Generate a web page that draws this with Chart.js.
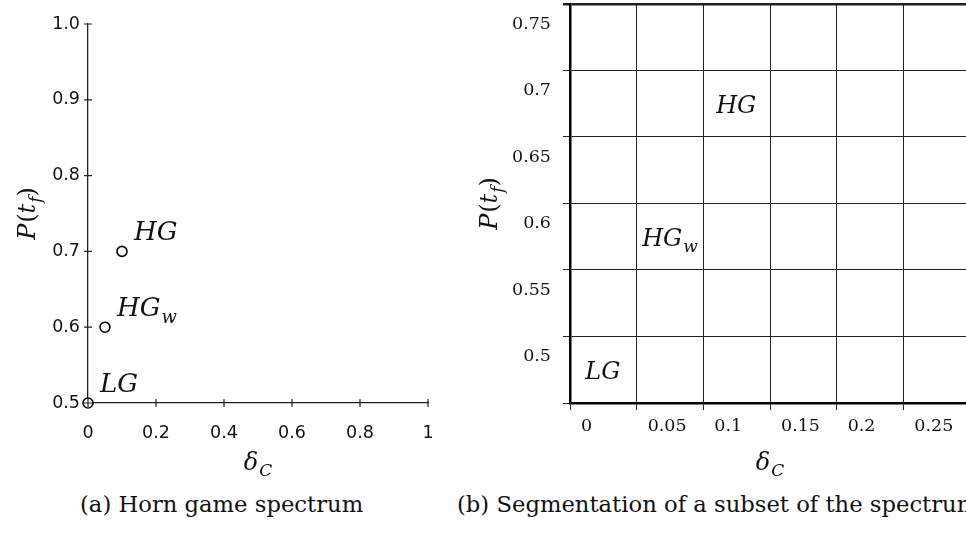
<!DOCTYPE html>
<html>
<head>
<meta charset="utf-8">
<title>Horn game spectrum</title>
<script src="https://cdn.jsdelivr.net/npm/chart.js@4.4.1/dist/chart.umd.min.js"></script>
<style>
  html, body { margin: 0; padding: 0; background: #fff; width: 966px; height: 534px; overflow: hidden; }
  .panel { position: absolute; top: 0; }
  #panelA { left: 0; }
  #panelB { left: 470px; }
  .caption { position: absolute; top: 491px; font-family: "DejaVu Serif", serif; font-size: 22.7px; color: #111; white-space: nowrap; }
</style>
</head>
<body>
<div class="panel" id="panelA"><canvas id="spectrum" width="460" height="480"></canvas></div>
<div class="panel" id="panelB"><canvas id="segments" width="540" height="480"></canvas></div>
<div class="caption" style="left:80px">(a) Horn game spectrum</div>
<div class="caption" style="left:457px">(b) Segmentation of a subset of the spectrum</div>

<script>
// (a) games on the spectrum
const gameNames = ["LG", "HG_w", "HG"];
const gameDelta = [0, 0.05, 0.1];
const gameP = [0.5, 0.6, 0.7];
const spectrumXTicks = [0, 0.2, 0.4, 0.6, 0.8, 1];
const spectrumYTicks = [0.5, 0.6, 0.7, 0.8, 0.9, 1.0];

// (b) segment each game falls into (cell centres)
const segmentNames = ["LG", "HG_w", "HG"];
const segmentDelta = [0.025, 0.075, 0.125];
const segmentP = [0.475, 0.575, 0.675];
const segmentXTicks = [0, 0.05, 0.1, 0.15, 0.2, 0.25, 0.3];
const segmentYTicks = [0.45, 0.5, 0.55, 0.6, 0.65, 0.7, 0.75];

const SERIF = '"DejaVu Serif", serif';

// draw a run of math-ish text parts, returns width (or only measures)
function drawParts(ctx, parts, x, y, size, measureOnly) {
  let w = 0;
  parts.forEach((p) => {
    const s = p.sub ? Math.round(size * 0.7) : size;
    ctx.font = (p.it ? "italic " : "") + s + "px " + SERIF;
    if (!measureOnly) ctx.fillText(p.t, x + w, y + (p.sub ? size * 0.25 : 0));
    w += ctx.measureText(p.t).width + (p.it && !p.sub ? size * 0.04 : 0);
  });
  return w;
}

// "HG_w" -> italic HG with subscript w
function nameParts(name) {
  const [base, sub] = name.split("_");
  const parts = [{ t: base, it: true }];
  if (sub) parts.push({ t: sub, it: true, sub: true });
  return parts;
}

const pTitle = [
  { t: "P", it: true }, { t: "(", it: false }, { t: "t", it: true },
  { t: "f", it: true, sub: true }, { t: ")", it: false },
];
const deltaTitle = [{ t: "δ", it: true }, { t: "C", it: true, sub: true }];

// axis titles with subscripts
function axisTitles(yOffset) {
  return {
    id: "axisTitles",
    afterDraw(chart) {
      const { ctx, chartArea } = chart;
      ctx.save();
      ctx.fillStyle = "#111";
      ctx.textBaseline = "alphabetic";
      ctx.textAlign = "left";
      // x title
      let w = drawParts(ctx, deltaTitle, 0, 0, 24, true);
      drawParts(ctx, deltaTitle, (chartArea.left + chartArea.right) / 2 - w / 2, chartArea.bottom + 67, 24);
      // y title, rotated
      w = drawParts(ctx, pTitle, 0, 0, 24, true);
      ctx.translate(chartArea.left - yOffset, (chartArea.top + chartArea.bottom) / 2);
      ctx.rotate(-Math.PI / 2);
      drawParts(ctx, pTitle, -w / 2, 8, 24);
      ctx.restore();
    },
  };
}

// little tick marks crossing the axes of panel (a)
const crossTicks = {
  id: "crossTicks",
  afterDraw(chart) {
    const { ctx, chartArea, scales } = chart;
    ctx.save();
    ctx.strokeStyle = "#222";
    ctx.lineWidth = 1.2;
    ctx.beginPath();
    scales.x.ticks.forEach((t) => {
      const px = scales.x.getPixelForValue(t.value);
      ctx.moveTo(px, chartArea.bottom - 4);
      ctx.lineTo(px, chartArea.bottom + 4);
    });
    scales.y.ticks.forEach((t) => {
      const py = scales.y.getPixelForValue(t.value);
      ctx.moveTo(chartArea.left - 4, py);
      ctx.lineTo(chartArea.left + 4, py);
    });
    ctx.stroke();
    ctx.restore();
  },
};

// names next to the spectrum points
const pointNames = {
  id: "pointNames",
  afterDatasetsDraw(chart) {
    const { ctx } = chart;
    const meta = chart.getDatasetMeta(0);
    ctx.save();
    ctx.fillStyle = "#111";
    ctx.textBaseline = "alphabetic";
    meta.data.forEach((pt, i) => {
      drawParts(ctx, nameParts(gameNames[i]), pt.x + 12, pt.y - 11, 26);
    });
    ctx.restore();
  },
};

// names centred in their segment cells
const cellNames = {
  id: "cellNames",
  afterDatasetsDraw(chart) {
    const { ctx } = chart;
    const meta = chart.getDatasetMeta(0);
    ctx.save();
    ctx.fillStyle = "#111";
    ctx.textBaseline = "alphabetic";
    meta.data.forEach((pt, i) => {
      const parts = nameParts(segmentNames[i]);
      const w = drawParts(ctx, parts, 0, 0, 24, true);
      drawParts(ctx, parts, pt.x - w / 2, pt.y + 9, 24);
    });
    ctx.restore();
  },
};

const sansTicks = { family: '"DejaVu Sans", sans-serif', size: 17.5 };
const serifTicks = { family: SERIF, size: 17.5 };

// (a) Horn game spectrum
new Chart(document.getElementById("spectrum"), {
  type: "scatter",
  data: {
    datasets: [{
      data: gameDelta.map((x, i) => ({ x, y: gameP[i] })),
      pointRadius: 5,
      pointBorderWidth: 1.6,
      pointBorderColor: "#000",
      pointBackgroundColor: "#fff",
      clip: false,
    }],
  },
  options: {
    responsive: false,
    animation: false,
    events: [],
    layout: { padding: { top: 24, right: 32, left: 0, bottom: 0 } },
    plugins: { legend: { display: false }, tooltip: { enabled: false } },
    scales: {
      x: {
        type: "linear", min: 0, max: 1,
        afterBuildTicks: (s) => { s.ticks = spectrumXTicks.map((v) => ({ value: v })); },
        afterFit: (s) => { s.height = 77; s.paddingLeft = 0; s.paddingRight = 0; },
        grid: { display: false },
        border: { color: "#222", width: 1.3 },
        ticks: { font: sansTicks, color: "#111", padding: 12, callback: (v) => String(v) },
      },
      y: {
        type: "linear", min: 0.5, max: 1.0,
        afterBuildTicks: (s) => { s.ticks = spectrumYTicks.map((v) => ({ value: v })); },
        afterFit: (s) => { s.width = 88; s.paddingTop = 0; s.paddingBottom = 0; },
        grid: { display: false },
        border: { color: "#222", width: 1.3 },
        ticks: { font: sansTicks, color: "#111", padding: 0, callback: (v) => v.toFixed(1) },
      },
    },
  },
  plugins: [crossTicks, pointNames, axisTitles(61)],
});

// (b) segmentation grid
new Chart(document.getElementById("segments"), {
  type: "scatter",
  data: {
    datasets: [{
      data: segmentDelta.map((x, i) => ({ x, y: segmentP[i] })),
      pointRadius: 0,
      clip: false,
    }],
  },
  options: {
    responsive: false,
    animation: false,
    events: [],
    layout: { padding: { top: 4, right: 40, left: 0, bottom: 0 } },
    plugins: { legend: { display: false }, tooltip: { enabled: false } },
    scales: {
      x: {
        type: "linear", min: 0, max: 0.3,
        afterBuildTicks: (s) => { s.ticks = segmentXTicks.map((v) => ({ value: v })); },
        afterFit: (s) => { s.height = 77; s.paddingLeft = 0; s.paddingRight = 0; },
        grid: { color: "#222", lineWidth: 1, tickLength: 7 },
        border: { color: "#000", width: 2.5 },
        ticks: {
          font: serifTicks, color: "#111", align: "start", labelOffset: 11, padding: 6,
          callback: (v) => String(+v.toFixed(2)),
        },
      },
      y: {
        type: "linear", min: 0.45, max: 0.75,
        afterBuildTicks: (s) => { s.ticks = segmentYTicks.map((v) => ({ value: v })); },
        afterFit: (s) => { s.width = 100; s.paddingTop = 0; s.paddingBottom = 0; },
        grid: {
          color: "#222",
          lineWidth: (c) => (c.tick && Math.abs(c.tick.value - 0.75) < 1e-9 ? 2.5 : 1),
          tickLength: 7,
        },
        border: { color: "#000", width: 2.5 },
        ticks: {
          font: serifTicks, color: "#111", labelOffset: 20, padding: 12,
          callback: (v) => (v < 0.5 - 1e-9 ? "" : String(+v.toFixed(2))),
        },
      },
    },
  },
  plugins: [cellNames, axisTitles(81)],
});
</script>
</body>
</html>
